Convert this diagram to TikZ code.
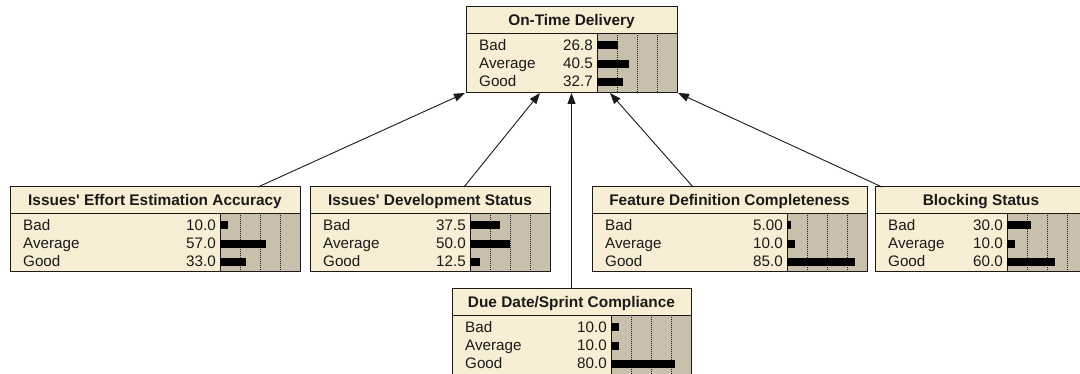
\documentclass[tikz,border=0pt]{standalone}
\usepackage{fontspec}
\setmainfont{Liberation Sans}
\usetikzlibrary{arrows.meta,calc}

\definecolor{cream}{HTML}{F8EED4}
\definecolor{tan}{HTML}{C8BFAC}
\definecolor{ink}{HTML}{1A1A1A}

\tikzset{
  nodebox/.style={rectangle, fill=cream, draw=none, inner sep=0pt, outer sep=0pt},
  frame/.style={draw=ink, line width=1pt},
  barbg/.style={fill=tan},
  gridline/.style={draw=ink, line width=0.8pt, dash pattern=on 1pt off 1pt},
  barfill/.style={fill=black},
  titletext/.style={inner sep=0pt, anchor=base, font=\fontsize{15.4}{18}\selectfont\bfseries, text=ink},
  rowtext/.style={inner sep=0pt, font=\fontsize{15.2}{18}\selectfont, text=ink},
  link/.style={draw=ink, line width=0.9pt, -{Triangle[length=11pt,width=8pt]}}
}

% one state row: box name, row index, box left, bar-area left, row centre, label, value
\newcommand{\beliefrow}[7]{%
  \node[rowtext, anchor=base west] (#1-l#2) at (#3+13,#5-5) {#6};
  \node[rowtext, anchor=base east] (#1-v#2) at (#4-4,#5-5) {#7};
  \fill[barfill] (#4,#5-4) rectangle (#4+0.8*#7,#5+4);
}

% a belief box: name, left, top, right, bottom (measured downwards), title, three values
\newcommand{\beliefnode}[9]{%
  \pgfmathsetmacro\bnTop{374-#3}%
  \pgfmathsetmacro\bnBot{374-#5}%
  \pgfmathsetmacro\bnSep{\bnTop-26.5}%
  \pgfmathsetmacro\bnBar{#4-80}%
  \pgfmathsetmacro\bnW{#4-#2}%
  \pgfmathsetmacro\bnH{#5-#3}%
  \node[nodebox, minimum width=\bnW pt, minimum height=\bnH pt, anchor=north west] (#1) at (#2,\bnTop) {};
  \fill[barbg] (\bnBar,\bnSep) rectangle (#4,\bnBot);
  \foreach \q in {20,40,60} \draw[gridline] (\bnBar+\q,\bnSep) -- (\bnBar+\q,\bnBot);
  \draw[frame] (#2,\bnSep) -- (#4,\bnSep);
  \draw[frame] (\bnBar,\bnSep) -- (\bnBar,\bnBot);
  \node[titletext] (#1-title) at ({(#2+#4)/2},\bnTop-19) {#6};
  \beliefrow{#1}{1}{#2}{\bnBar}{\bnSep-12}{Bad}{#7}
  \beliefrow{#1}{2}{#2}{\bnBar}{\bnSep-30.3}{Average}{#8}
  \beliefrow{#1}{3}{#2}{\bnBar}{\bnSep-48.5}{Good}{#9}
  \draw[frame] (#1.north west) rectangle (#1.south east);
}

\begin{document}
\begin{tikzpicture}[x=1pt,y=1pt]
\useasboundingbox (0,0) rectangle (1080,374);
\clip (0,0) rectangle (1080,374);
\fill[white] (0,0) rectangle (1080,374);

\beliefnode{otd}{466}{7}{677}{93}{On-Time Delivery}{26.8}{40.5}{32.7}
\beliefnode{eea}{10}{187}{300}{272}{Issues\textquotesingle{} Effort Estimation Accuracy}{10.0}{57.0}{33.0}
\beliefnode{ids}{310}{187}{550}{272}{Issues\textquotesingle{} Development Status}{37.5}{50.0}{12.5}
\beliefnode{fdc}{592}{187}{867}{272}{Feature Definition Completeness}{5.00}{10.0}{85.0}
\beliefnode{bs}{875}{187}{1087}{272}{Blocking Status}{30.0}{10.0}{60.0}
\beliefnode{ddc}{452}{289}{691}{376}{Due Date/Sprint Compliance}{10.0}{10.0}{80.0}

% influence links into On-Time Delivery
\draw[link] ($(eea.north west)+(248,0)$) -- ($(otd.south west)+(-1,0)$);
\draw[link] ($(ids.north west)+(154,0)$) -- ($(otd.south west)+(74,0)$);
\draw[link] (ddc.north) -- (ddc.north |- otd.south);
\draw[link] ($(fdc.north west)+(101,0)$) -- ($(otd.south west)+(144,0)$);
\draw[link] ($(bs.north west)+(7,0)$) -- ($(otd.south east)+(1,0)$);
\end{tikzpicture}
\end{document}
